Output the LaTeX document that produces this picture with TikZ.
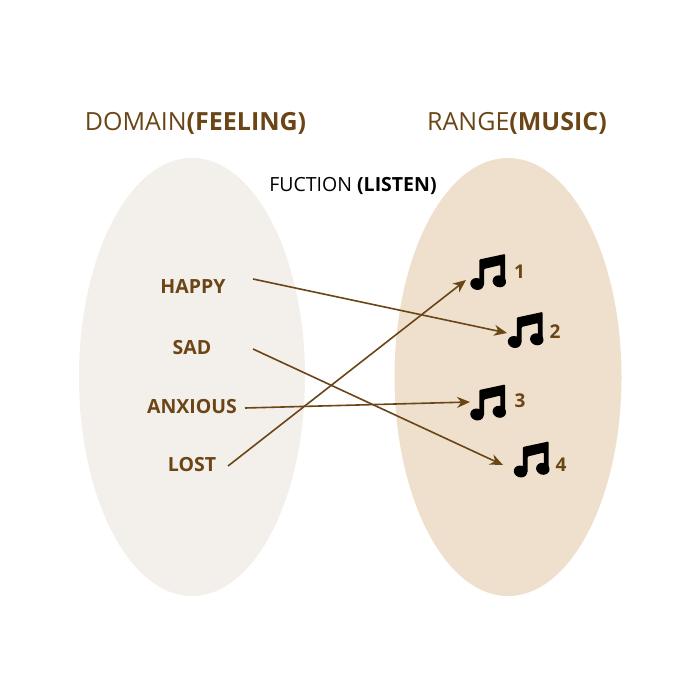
\documentclass[tikz,border=0pt]{standalone}
\usepackage{fontspec}
\setmainfont{Open Sans}
\usetikzlibrary{arrows.meta}
\definecolor{brn}{HTML}{6B4516}
\definecolor{pale}{HTML}{F3EFEA}
\definecolor{tan}{HTML}{EEE0CC}
\tikzset{
  title/.style={text=brn,font=\fontsize{25}{29}\selectfont,inner sep=0pt},
  item/.style={text=brn,font=\fontsize{19.5}{23}\selectfont\bfseries,inner sep=0pt},
  num/.style={text=brn,font=\fontsize{19}{22}\selectfont\bfseries,inner sep=0pt},
  link/.style={draw=brn,line width=1.6pt,-{Stealth[length=13pt,width=11pt]}},
  pics/musicnote/.style={code={
    \fill[black,rotate around={-18:(0,0)}] (0,0) ellipse [x radius=6.8,y radius=5.9];
    \fill[black,rotate around={-18:(22.3,-2.7)}] (22.3,-2.7) ellipse [x radius=6.8,y radius=5.9];
    \fill[black,rounded corners=0.8pt] (2.4,1) -- (2.4,-24.5) -- (28,-30) -- (28,-1) -- (23.3,-1) -- (23.3,-19) -- (7.2,-15) -- (7.2,1) -- cycle;
  }}
}
\begin{document}
\begin{tikzpicture}[x=1pt,y=-1pt]
\useasboundingbox[fill=white] (0,0) rectangle (700,700);
\fill[pale] (192,377) ellipse [x radius=113,y radius=219];
\fill[tan] (508,377) ellipse [x radius=113.5,y radius=219];
\node[title] (dom) at (195.5,123) {DOMAIN\textbf{(FEELING)}};
\node[title] (rng) at (517,123) {RANGE\textbf{(MUSIC)}};
\node[inner sep=0pt,font=\fontsize{19.5}{23}\selectfont] (fn) at (353,186) {FUCTION \textbf{(LISTEN)}};
\node[item] (happy) at (193,287) {HAPPY};
\node[item] (sad) at (192,347.5) {SAD};
\node[item] (anx) at (192,407) {ANXIOUS};
\node[item] (lost) at (192,465) {LOST};
\pic at (477,284) {musicnote};
\pic at (514.5,342) {musicnote};
\pic at (477,414.5) {musicnote};
\pic at (520.5,471.5) {musicnote};
\node[num] (n1) at (519.5,271.5) {1};
\node[num] (n2) at (555,331.5) {2};
\node[num] (n3) at (520,400.5) {3};
\node[num] (n4) at (561,464.5) {4};
\coordinate (a1) at (253,279);
\coordinate (b2) at (507,333);
\coordinate (a2) at (253,349);
\coordinate (b4) at (503,465);
\coordinate (a3) at (245,408);
\coordinate (b3) at (470,402);
\coordinate (a4) at (228,466);
\coordinate (b1) at (466,280);
\draw[link] (a1) -- (b2);
\draw[link] (a2) -- (b4);
\draw[link] (a3) -- (b3);
\draw[link] (a4) -- (b1);
\end{tikzpicture}
\end{document}
